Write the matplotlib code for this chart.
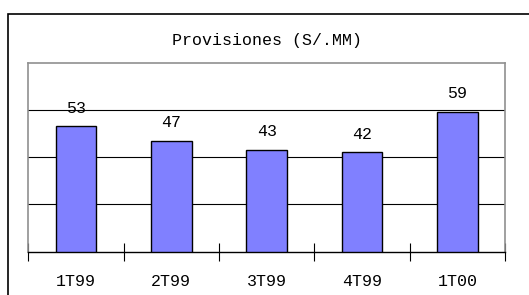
import matplotlib.pyplot as plt
from matplotlib.patches import Rectangle
import numpy as np

# data
quarters = ["1T99", "2T99", "3T99", "4T99", "1T00"]
provisions = [53, 47, 43, 42, 59]
title = "Provisiones (S/.MM)"

plt.rcParams['font.family'] = ['Liberation Mono', 'DejaVu Sans']

fig = plt.figure(figsize=(5.29, 2.95), dpi=100)
ax = fig.add_axes([28.3 / 529, 1 - 251.6 / 295, (505 - 28.3) / 529, (251.6 - 62.7) / 295])

x = np.arange(len(quarters))
ax.bar(x, provisions, width=0.425, color='#8080FF', edgecolor='black', linewidth=1.0, zorder=3)

for xi, v in zip(x, provisions):
    ax.annotate(str(v), xy=(xi, v), xytext=(0, 10), textcoords='offset points',
                ha='center', va='baseline', fontsize=12, color='black')

ax.set_xlim(-0.5, len(quarters) - 0.5)
ax.set_ylim(0, 80)
ax.set_yticks([20, 40, 60])
ax.yaxis.grid(True, color='black', linewidth=0.8, zorder=0)
ax.tick_params(axis='y', length=0, labelleft=False)

# category boundaries as ticks, labels centred
ax.set_xticks(np.arange(-0.5, len(quarters), 1.0))
ax.set_xticklabels([])
ax.set_xticks(x, minor=True)
ax.set_xticklabels(quarters, minor=True, fontsize=12)
ax.tick_params(axis='x', which='major', direction='inout', length=13, width=0.8, color='black')
ax.tick_params(axis='x', which='minor', length=0, pad=16)

for side in ['left', 'top', 'right']:
    ax.spines[side].set_color('#909090')
    ax.spines[side].set_linewidth(1.2)
ax.spines['bottom'].set_color('black')
ax.spines['bottom'].set_linewidth(1.0)

fig.text(0.5 * (28.3 + 505) / 529, 1 - 40 / 295, title, ha='center', va='center', fontsize=12)

# outer chart frame, running off the right and bottom edges
fig.add_artist(Rectangle((7.5 / 529, -0.1), 1.2, 1.1 - 14 / 295, transform=fig.transFigure,
                         fill=False, edgecolor='black', linewidth=1.2, clip_on=False))

fig.savefig("out.png", dpi=100)
